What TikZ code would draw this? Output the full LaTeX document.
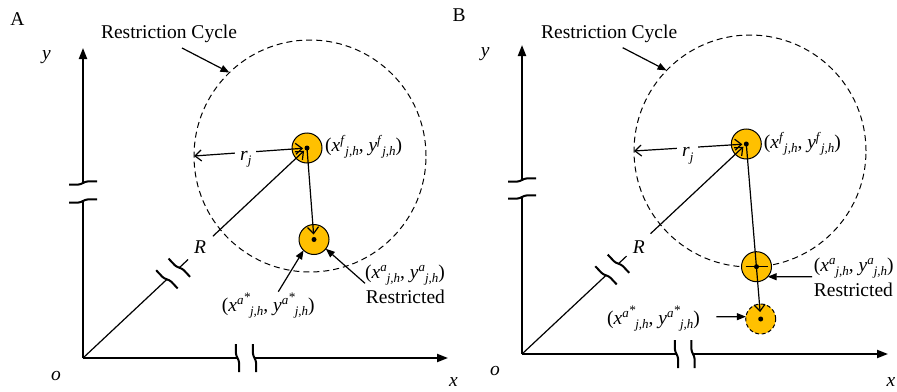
\documentclass[tikz,border=0pt]{standalone}
\usepackage{fontspec}
\setmainfont{Liberation Serif}
\usetikzlibrary{arrows.meta,calc}
\definecolor{dotfill}{RGB}{255,192,0}
\newcommand{\crd}[3]{\textit{#1}\raisebox{7pt}{\fontsize{13}{13}\selectfont\textit{#2}}\raisebox{-4pt}{\fontsize{13}{13}\selectfont\textit{#3}}}
\newcommand{\astr}{a\raisebox{3.5pt}{\fontsize{13}{13}\selectfont*}}
\newcommand{\rj}{\textit{r}\raisebox{-4.5pt}{\fontsize{13}{13}\selectfont\textit{j}}}
\tikzset{
  axisline/.style={line width=2pt},
  axisarrow/.style={line width=2pt,-{Triangle[length=11pt,width=8pt]}},
  brkline/.style={line width=2pt},
  thinline/.style={line width=1.2pt},
  fillarrow/.style={line width=1.2pt,-{Triangle[length=9pt,width=7pt]}},
  barb/.style={line width=1.2pt,-{Straight Barb[length=6.5pt,width=11pt]}},
  barbs/.style={line width=1.2pt,{Straight Barb[length=6.5pt,width=11pt]}-{Straight Barb[length=6.5pt,width=11pt]}},
  fdot/.style={circle,draw,fill=dotfill,line width=1pt,minimum size=30pt,inner sep=0pt,outer sep=0pt},
  cdot/.style={circle,fill=black,minimum size=5pt,inner sep=0pt},
  rcycle/.style={circle,draw,line width=1pt,dash pattern=on 6pt off 4pt,minimum size=232pt,inner sep=0pt,outer sep=0pt},
  lbl/.style={font=\fontsize{19.5}{23}\selectfont,inner sep=0pt},
  brk/.pic={\draw[brkline] (-1.6,-14) -- (-1.6,-5) .. controls (-1.6,-1.5) and (1.6,1.5) .. (1.6,5) -- (1.6,14);}
}
\begin{document}
\begin{tikzpicture}[x=1pt,y=-1pt]
\useasboundingbox (0,0) rectangle (897,391);
% ================= Panel A =================
\coordinate (AO) at (83,358);
\coordinate (Aytip) at (83,48);
\coordinate (Axtip) at (448,358);
\coordinate (Ayb1) at (83,201);
\coordinate (Ayb2) at (83,183);
\coordinate (Axb1) at (237.5,358);
\coordinate (Axb2) at (254.5,358);
\node[rcycle] (Acirc) at (310,156) {};
\node[fdot] (Af) at (307,148) {};
\node[fdot] (Aa) at (314,239.5) {};
\node[cdot] (Afd) at (Af.center) {};
\node[cdot] (Aad) at (Aa.center) {};
\draw[axisline] (AO) -- (Ayb1);
\draw[axisarrow] (Ayb2) -- (Aytip);
\draw[axisline] (AO) -- (Axb1);
\draw[axisarrow] (Axb2) -- (Axtip);
\pic[rotate=90] at (Ayb1) {brk};
\pic[rotate=90] at (Ayb2) {brk};
\pic at (Axb1) {brk};
\pic at (Axb2) {brk};
\coordinate (Ar1) at ($(AO)!0.3746!(Af.center)$);
\coordinate (Ar2) at ($(AO)!0.43!(Af.center)$);
\coordinate (Ar3) at ($(AO)!0.469!(Af.center)$);
\coordinate (Ar4) at ($(AO)!0.58!(Af.center)$);
\draw[thinline] (AO) -- (Ar1);
\draw[thinline] (Ar2) -- (Ar3);
\draw[barb,shorten >=4pt] (Ar4) -- (Af.center);
\pic[rotate=43.15] at (Ar1) {brk};
\pic[rotate=43.15] at (Ar2) {brk};
\node[lbl] (AR) at (200,247.5) {\textit{R}};
\draw[barbs,shorten >=4pt] (Acirc.west) -- (Af.center);
\node[lbl,fill=white,inner xsep=5pt,inner ysep=2pt,anchor=base west] (Arj) at (235,160) {\rj};
\draw[barb,shorten >=5pt] (Af.center) -- (Aa.center);
\node[lbl,anchor=base west] (Aflbl) at (325,151.5) {(\crd{x}{f}{j,h}, \crd{y}{f}{j,h})};
\node[lbl,anchor=base west] (Aalbl) at (365,278.2) {(\crd{x}{a}{j,h}, \crd{y}{a}{j,h})};
\node[lbl,anchor=base west] (Arestr) at (365.7,303.3) {Restricted};
\node[lbl,anchor=base west] (Aaslbl) at (221.7,311.5) {(\crd{x}{\astr}{j,h}, \crd{y}{\astr}{j,h})};
\coordinate (Aas0) at (278.3,291.7);
\coordinate (Ars0) at (365,283.3);
\draw[fillarrow] (Aas0) -- (Aa.-134);
\draw[fillarrow] (Ars0) -- (Aa.-38);
\node[lbl,anchor=base] (Arc) at (169,38) {Restriction Cycle};
\coordinate (Arc0) at (182,48);
\draw[fillarrow] (Arc0) -- (Acirc.134);
\node[lbl,anchor=base] (Atitle) at (17.5,25) {A};
\node[lbl,anchor=base] (Aylbl) at (46.5,59) {\textit{y}};
\node[lbl,anchor=base] (Aolbl) at (56,380) {\textit{o}};
\node[lbl,anchor=base] (Axlbl) at (453.5,386) {\textit{x}};
% ================= Panel B =================
\coordinate (BO) at (522,354);
\coordinate (Bytip) at (522,45);
\coordinate (Bxtip) at (888,354);
\coordinate (Byb1) at (522,197);
\coordinate (Byb2) at (522,180);
\coordinate (Bxb1) at (676.5,354);
\coordinate (Bxb2) at (693,354);
\node[rcycle] (Bcirc) at (750,151) {};
\node[fdot] (Bf) at (746.3,144) {};
\node[fdot] (Ba) at (756.5,266.7) {};
\node[fdot,dash pattern=on 4pt off 2.5pt] (Bas) at (760.7,319) {};
\node[cdot] (Bfd) at (Bf.center) {};
\node[cdot] (Bad) at (Ba.center) {};
\node[cdot] (Basd) at (Bas.center) {};
\draw[axisline] (BO) -- (Byb1);
\draw[axisarrow] (Byb2) -- (Bytip);
\draw[axisline] (BO) -- (Bxb1);
\draw[axisarrow] (Bxb2) -- (Bxtip);
\pic[rotate=90] at (Byb1) {brk};
\pic[rotate=90] at (Byb2) {brk};
\pic at (Bxb1) {brk};
\pic at (Bxb2) {brk};
\coordinate (Br1) at ($(BO)!0.3746!(Bf.center)$);
\coordinate (Br2) at ($(BO)!0.43!(Bf.center)$);
\coordinate (Br3) at ($(BO)!0.466!(Bf.center)$);
\coordinate (Br4) at ($(BO)!0.573!(Bf.center)$);
\draw[thinline] (BO) -- (Br1);
\draw[thinline] (Br2) -- (Br3);
\draw[barb,shorten >=4pt] (Br4) -- (Bf.center);
\pic[rotate=43.12] at (Br1) {brk};
\pic[rotate=43.12] at (Br2) {brk};
\node[lbl] (BR) at (638.7,246.7) {\textit{R}};
\draw[barbs,shorten >=4pt] (Bcirc.west) -- (Bf.center);
\node[lbl,fill=white,inner xsep=5pt,inner ysep=2pt,anchor=base west] (Brj) at (677,156.7) {\rj};
\draw[thinline,shorten <=4pt,shorten >=4pt] (Ba.west) -- (Ba.east);
\draw[barb,shorten >=7pt] (Bf.center) -- (Bas.center);
\node[lbl,anchor=base west] (Bflbl) at (763.7,148.2) {(\crd{x}{f}{j,h}, \crd{y}{f}{j,h})};
\node[lbl,anchor=base west] (Balbl) at (813.7,271.5) {(\crd{x}{a}{j,h}, \crd{y}{a}{j,h})};
\node[lbl,anchor=base west] (Brestr) at (813.7,296.7) {Restricted};
\node[lbl,anchor=base west] (Baslbl) at (607,324.8) {(\crd{x}{\astr}{j,h}, \crd{y}{\astr}{j,h})};
\coordinate (Bas0) at (716.3,316.7);
\coordinate (Brs0) at (812,276.7);
\draw[fillarrow] (Bas0) -- (Bas.171);
\draw[fillarrow] (Brs0) -- (Ba.-42);
\node[lbl,anchor=base] (Brc) at (609.2,38.5) {Restriction Cycle};
\coordinate (Brc0) at (622.7,47.7);
\draw[fillarrow] (Brc0) -- (Bcirc.136);
\node[lbl,anchor=base] (Btitle) at (459,21.7) {B};
\node[lbl,anchor=base] (Bylbl) at (485.3,56) {\textit{y}};
\node[lbl,anchor=base] (Bolbl) at (495,375) {\textit{o}};
\node[lbl,anchor=base] (Bxlbl) at (891,386) {\textit{x}};
\end{tikzpicture}
\end{document}
